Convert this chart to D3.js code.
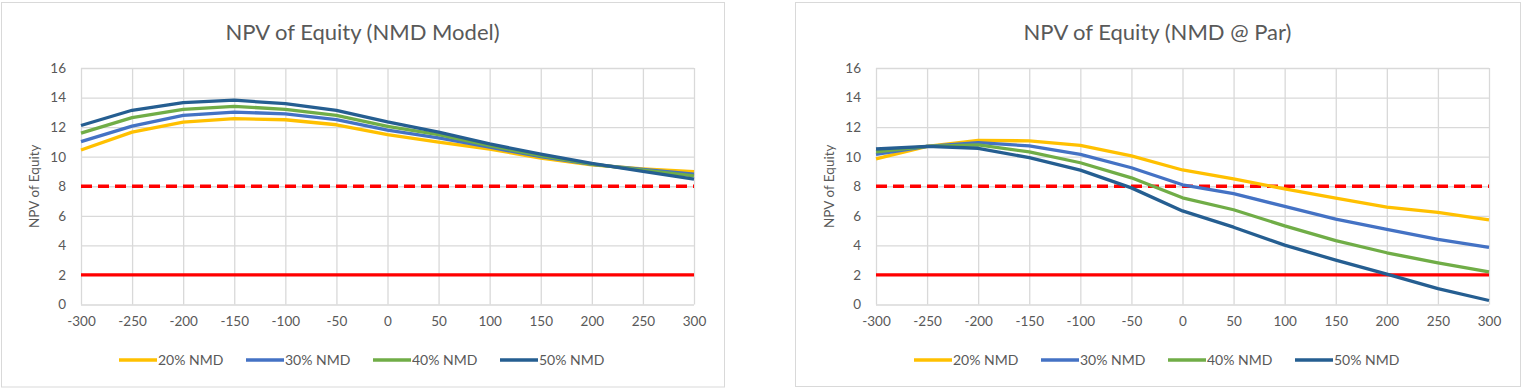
<!DOCTYPE html>
<html><head><meta charset="utf-8">
<script src="https://cdn.jsdelivr.net/npm/d3@7"></script>
<style>
html,body{margin:0;padding:0;background:#fff;}
svg{display:block;font-family:Lato,"Open Sans",sans-serif;}
</style></head>
<body>
<svg id="chart" width="1524" height="390"></svg>
<script>
const xCats = [-300,-250,-200,-150,-100,-50,0,50,100,150,200,250,300];
const yTicks = [0,2,4,6,8,10,12,14,16];
const seriesNames = ["20% NMD","30% NMD","40% NMD","50% NMD"];
const seriesColors = ["#FFC000","#4472C4","#70AD47","#255E91"];

// Left chart: NPV of Equity (NMD Model)
const model20 = [10.45,11.66,12.34,12.57,12.50,12.16,11.50,10.98,10.52,9.90,9.45,9.18,8.98];
const model30 = [11.02,12.07,12.80,13.02,12.90,12.50,11.80,11.27,10.64,10.00,9.48,9.14,8.82];
const model40 = [11.59,12.64,13.20,13.41,13.20,12.80,12.05,11.50,10.75,10.07,9.50,9.09,8.70];
const model50 = [12.11,13.14,13.66,13.82,13.59,13.14,12.35,11.66,10.86,10.18,9.55,9.00,8.48];

// Right chart: NPV of Equity (NMD @ Par)
const par20 = [9.85,10.70,11.10,11.07,10.77,10.05,9.10,8.50,7.82,7.20,6.59,6.23,5.73];
const par30 = [10.15,10.70,10.95,10.73,10.16,9.25,8.10,7.50,6.64,5.77,5.09,4.41,3.86];
const par40 = [10.32,10.70,10.80,10.32,9.59,8.57,7.22,6.41,5.32,4.32,3.50,2.82,2.20];
const par50 = [10.52,10.70,10.57,9.93,9.09,7.89,6.33,5.23,4.02,3.00,2.05,1.07,0.27];

const thresholdDashed = 8;
const thresholdSolid = 2;

const charts = [
  {title:"NPV of Equity (NMD Model)", yTitle:"NPV of Equity", series:[model20,model30,model40,model50],
   panel:{x:1,y:2,w:723,h:384.5}, plot:{l:81,r:694,t:68,b:304.5}},
  {title:"NPV of Equity (NMD @ Par)", yTitle:"NPV of Equity", series:[par20,par30,par40,par50],
   panel:{x:795,y:2,w:725,h:384}, plot:{l:876,r:1489,t:68,b:304.5}}
];

const svg = d3.select("#chart");
const textColor = "#595959";
const gridColor = "#D9D9D9";

charts.forEach(c => {
  const g = svg.append("g");
  g.append("rect").attr("x",c.panel.x+0.5).attr("y",c.panel.y+0.5)
    .attr("width",c.panel.w).attr("height",c.panel.h)
    .attr("fill","#fff").attr("stroke",gridColor).attr("stroke-width",1);

  const x = d3.scaleLinear().domain([xCats[0], xCats[xCats.length-1]]).range([c.plot.l,c.plot.r]);
  const y = d3.scaleLinear().domain([0,16]).range([c.plot.b,c.plot.t]);

  const gx = g.append("g").attr("transform",`translate(0,${c.plot.b})`)
    .call(d3.axisBottom(x).tickValues(xCats).tickSize(-(c.plot.b-c.plot.t)).tickFormat(d=>d).tickPadding(12));
  gx.select(".domain").remove();
  gx.selectAll("line").attr("stroke",gridColor).attr("stroke-width",1.3);
  gx.selectAll("text").attr("fill",textColor).style("font-size","13.5px").attr("font-family","Lato");

  const gy = g.append("g").attr("transform",`translate(${c.plot.l},0)`)
    .call(d3.axisLeft(y).tickValues(yTicks).tickSize(-(c.plot.r-c.plot.l)).tickPadding(15));
  gy.select(".domain").remove();
  gy.selectAll("line").attr("stroke",gridColor).attr("stroke-width",1.3);
  gy.selectAll("text").attr("fill",textColor).style("font-size","13.5px").attr("font-family","Lato");

  g.append("line").attr("x1",c.plot.l).attr("x2",c.plot.r)
    .attr("y1",y(thresholdSolid)).attr("y2",y(thresholdSolid))
    .attr("stroke","#FF0000").attr("stroke-width",3.3);
  g.append("line").attr("x1",c.plot.l).attr("x2",c.plot.r)
    .attr("y1",y(thresholdDashed)).attr("y2",y(thresholdDashed))
    .attr("stroke","#FF0000").attr("stroke-width",3.3).attr("stroke-dasharray","11,6");

  const line = d3.line().x((d,i)=>x(xCats[i])).y(d=>y(d));
  c.series.forEach((s,i)=>{
    g.append("path").datum(s).attr("d",line).attr("fill","none")
      .attr("stroke",seriesColors[i]).attr("stroke-width",3.3)
      .attr("stroke-linejoin","round");
  });

  const cx = c.panel.x + c.panel.w/2;
  g.append("text").attr("x",cx).attr("y",40).attr("text-anchor","middle")
    .attr("fill",textColor).style("font-size","22px").text(c.title);

  const cy = (c.plot.t+c.plot.b)/2;
  g.append("text").attr("transform",`translate(${c.plot.l-42},${cy}) rotate(-90)`)
    .attr("text-anchor","middle").attr("fill",textColor).style("font-size","13.5px").text(c.yTitle);

  const itemW = 127, lineW = 38;
  const lg = g.append("g");
  const totalW = itemW*3 + lineW + 68;
  const lx0 = cx - totalW/2;
  seriesNames.forEach((n,i)=>{
    const lx = lx0 + i*itemW;
    lg.append("line").attr("x1",lx).attr("x2",lx+lineW).attr("y1",360).attr("y2",360)
      .attr("stroke",seriesColors[i]).attr("stroke-width",3.3);
    lg.append("text").attr("x",lx+lineW+1).attr("y",365).attr("fill",textColor)
      .style("font-size","14px").text(n);
  });
});
</script>
</body></html>
